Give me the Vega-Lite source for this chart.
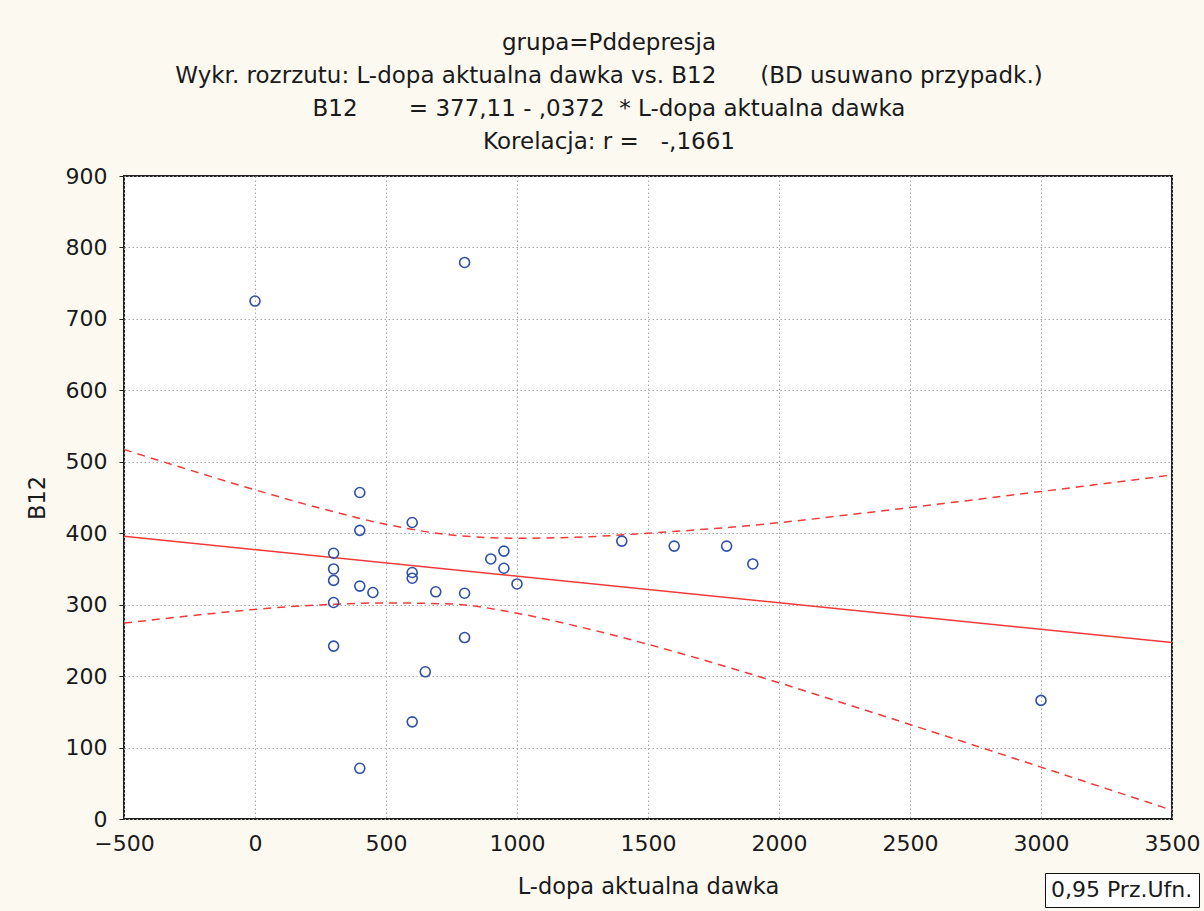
{
  "$schema": "https://vega.github.io/schema/vega-lite/v6.json",
  "width": 1048,
  "height": 643,
  "autosize": {"type": "none"},
  "padding": {"left": 124, "top": 176, "right": 32, "bottom": 92},
  "background": "#fcf9f1",
  "title": {
    "text": [
      "grupa=Pddepresja",
      "Wykr. rozrzutu: L-dopa aktualna dawka vs. B12\u00a0\u00a0\u00a0\u00a0\u00a0\u00a0(BD usuwano przypadk.)",
      "B12\u00a0\u00a0\u00a0\u00a0\u00a0\u00a0\u00a0= 377,11 - ,0372\u00a0\u00a0* L-dopa aktualna dawka",
      "Korelacja: r =\u00a0\u00a0\u00a0-,1661"
    ],
    "font": "DejaVu Sans",
    "fontSize": 23,
    "fontWeight": "normal",
    "lineHeight": 33,
    "offset": 11,
    "dx": -39,
    "color": "#1a1a1a"
  },
  "config": {
    "view": {"fill": "white", "stroke": "#222", "strokeWidth": 2},
    "axis": {
      "labelFont": "DejaVu Sans",
      "labelFontSize": 22,
      "labelColor": "#1a1a1a",
      "titleFont": "DejaVu Sans",
      "titleFontSize": 22.5,
      "titleFontWeight": "normal",
      "titleColor": "#1a1a1a",
      "gridColor": "#a8a8a8",
      "gridDash": [1.5, 2.5],
      "gridWidth": 1,
      "domain": false,
      "tickColor": "#222",
      "tickSize": 5
    },
    "legend": {
      "labelFont": "DejaVu Sans",
      "labelFontSize": 22,
      "labelColor": "#1a1a1a"
    }
  },
  "datasets": {
    "points": [
      {"dawka": 0, "B12": 725},
      {"dawka": 800, "B12": 779},
      {"dawka": 400, "B12": 457},
      {"dawka": 400, "B12": 404},
      {"dawka": 600, "B12": 415},
      {"dawka": 300, "B12": 372},
      {"dawka": 300, "B12": 350},
      {"dawka": 300, "B12": 334},
      {"dawka": 300, "B12": 303},
      {"dawka": 300, "B12": 242},
      {"dawka": 400, "B12": 326},
      {"dawka": 450, "B12": 317},
      {"dawka": 600, "B12": 345},
      {"dawka": 600, "B12": 337},
      {"dawka": 690, "B12": 318},
      {"dawka": 800, "B12": 316},
      {"dawka": 800, "B12": 254},
      {"dawka": 650, "B12": 206},
      {"dawka": 600, "B12": 136},
      {"dawka": 400, "B12": 71},
      {"dawka": 900, "B12": 364},
      {"dawka": 950, "B12": 375},
      {"dawka": 950, "B12": 351},
      {"dawka": 1000, "B12": 329},
      {"dawka": 1400, "B12": 389},
      {"dawka": 1600, "B12": 382},
      {"dawka": 1800, "B12": 382},
      {"dawka": 1900, "B12": 357},
      {"dawka": 3000, "B12": 166}
    ],
    "fit": [
      {"dawka": -500, "B12": 395.7},
      {"dawka": 3500, "B12": 246.9}
    ],
    "band": [
      {"dawka": -500, "B12": 517.2, "curve": "upper", "leg": "0,95 Prz.Ufn."},
      {"dawka": -250, "B12": 488.5, "curve": "upper", "leg": "0,95 Prz.Ufn."},
      {"dawka": 0, "B12": 460.8, "curve": "upper", "leg": "0,95 Prz.Ufn."},
      {"dawka": 250, "B12": 434.9, "curve": "upper", "leg": "0,95 Prz.Ufn."},
      {"dawka": 500, "B12": 412.5, "curve": "upper", "leg": "0,95 Prz.Ufn."},
      {"dawka": 750, "B12": 397.5, "curve": "upper", "leg": "0,95 Prz.Ufn."},
      {"dawka": 1000, "B12": 393.0, "curve": "upper", "leg": "0,95 Prz.Ufn."},
      {"dawka": 1250, "B12": 394.7, "curve": "upper", "leg": "0,95 Prz.Ufn."},
      {"dawka": 1500, "B12": 400.0, "curve": "upper", "leg": "0,95 Prz.Ufn."},
      {"dawka": 1750, "B12": 406.5, "curve": "upper", "leg": "0,95 Prz.Ufn."},
      {"dawka": 2000, "B12": 414.7, "curve": "upper", "leg": "0,95 Prz.Ufn."},
      {"dawka": 2250, "B12": 425.1, "curve": "upper", "leg": "0,95 Prz.Ufn."},
      {"dawka": 2500, "B12": 435.9, "curve": "upper", "leg": "0,95 Prz.Ufn."},
      {"dawka": 2750, "B12": 447.1, "curve": "upper", "leg": "0,95 Prz.Ufn."},
      {"dawka": 3000, "B12": 458.4, "curve": "upper", "leg": "0,95 Prz.Ufn."},
      {"dawka": 3250, "B12": 469.9, "curve": "upper", "leg": "0,95 Prz.Ufn."},
      {"dawka": 3500, "B12": 481.5, "curve": "upper", "leg": "0,95 Prz.Ufn."},
      {"dawka": -500, "B12": 274.2, "curve": "lower", "leg": "0,95 Prz.Ufn."},
      {"dawka": -250, "B12": 284.3, "curve": "lower", "leg": "0,95 Prz.Ufn."},
      {"dawka": 0, "B12": 293.4, "curve": "lower", "leg": "0,95 Prz.Ufn."},
      {"dawka": 250, "B12": 299.7, "curve": "lower", "leg": "0,95 Prz.Ufn."},
      {"dawka": 500, "B12": 302.5, "curve": "lower", "leg": "0,95 Prz.Ufn."},
      {"dawka": 750, "B12": 300.9, "curve": "lower", "leg": "0,95 Prz.Ufn."},
      {"dawka": 1000, "B12": 288.0, "curve": "lower", "leg": "0,95 Prz.Ufn."},
      {"dawka": 1250, "B12": 268.0, "curve": "lower", "leg": "0,95 Prz.Ufn."},
      {"dawka": 1500, "B12": 244.5, "curve": "lower", "leg": "0,95 Prz.Ufn."},
      {"dawka": 1750, "B12": 218.5, "curve": "lower", "leg": "0,95 Prz.Ufn."},
      {"dawka": 2000, "B12": 190.7, "curve": "lower", "leg": "0,95 Prz.Ufn."},
      {"dawka": 2250, "B12": 161.7, "curve": "lower", "leg": "0,95 Prz.Ufn."},
      {"dawka": 2500, "B12": 132.3, "curve": "lower", "leg": "0,95 Prz.Ufn."},
      {"dawka": 2750, "B12": 102.6, "curve": "lower", "leg": "0,95 Prz.Ufn."},
      {"dawka": 3000, "B12": 72.6, "curve": "lower", "leg": "0,95 Prz.Ufn."},
      {"dawka": 3250, "B12": 42.5, "curve": "lower", "leg": "0,95 Prz.Ufn."},
      {"dawka": 3500, "B12": 12.3, "curve": "lower", "leg": "0,95 Prz.Ufn."}
    ]
  },
  "encoding": {
    "x": {
      "field": "dawka",
      "type": "quantitative",
      "title": "L-dopa aktualna dawka",
      "scale": {"domain": [-500, 3500], "nice": false, "zero": false},
      "axis": {
        "values": [-500, 0, 500, 1000, 1500, 2000, 2500, 3000, 3500],
        "ticks": false,
        "labelPadding": 14,
        "titlePadding": 21,
        "format": "d",
        "labelFlush": false
      }
    },
    "y": {
      "field": "B12",
      "type": "quantitative",
      "title": "B12",
      "scale": {"domain": [0, 900], "nice": false},
      "axis": {
        "values": [0, 100, 200, 300, 400, 500, 600, 700, 800, 900],
        "labelPadding": 12,
        "titlePadding": 16,
        "format": "d",
        "labelFlush": false
      }
    }
  },
  "layer": [
    {
      "data": {"name": "band"},
      "mark": {"type": "line", "strokeWidth": 1.5, "strokeDash": [8, 6], "interpolate": "monotone", "clip": true},
      "encoding": {
        "detail": {"field": "curve"},
        "color": {
          "field": "leg",
          "type": "nominal",
          "scale": {"range": ["#f03a3a"]},
          "legend": {
            "orient": "none",
            "legendX": 921,
            "legendY": 697,
            "title": null,
            "strokeColor": "#111",
            "fillColor": "white",
            "padding": 6,
            "symbolSize": 0,
            "symbolOpacity": 0,
            "symbolStrokeWidth": 0,
            "labelOffset": -22
          }
        }
      }
    },
    {
      "data": {"name": "fit"},
      "mark": {"type": "line", "strokeWidth": 1.5, "color": "#f03a3a"},
      "encoding": {}
    },
    {
      "data": {"name": "points"},
      "mark": {"type": "point", "shape": "circle", "filled": false, "size": 100, "strokeWidth": 1.6, "color": "#2f4fa8", "opacity": 1},
      "encoding": {}
    }
  ]
}
